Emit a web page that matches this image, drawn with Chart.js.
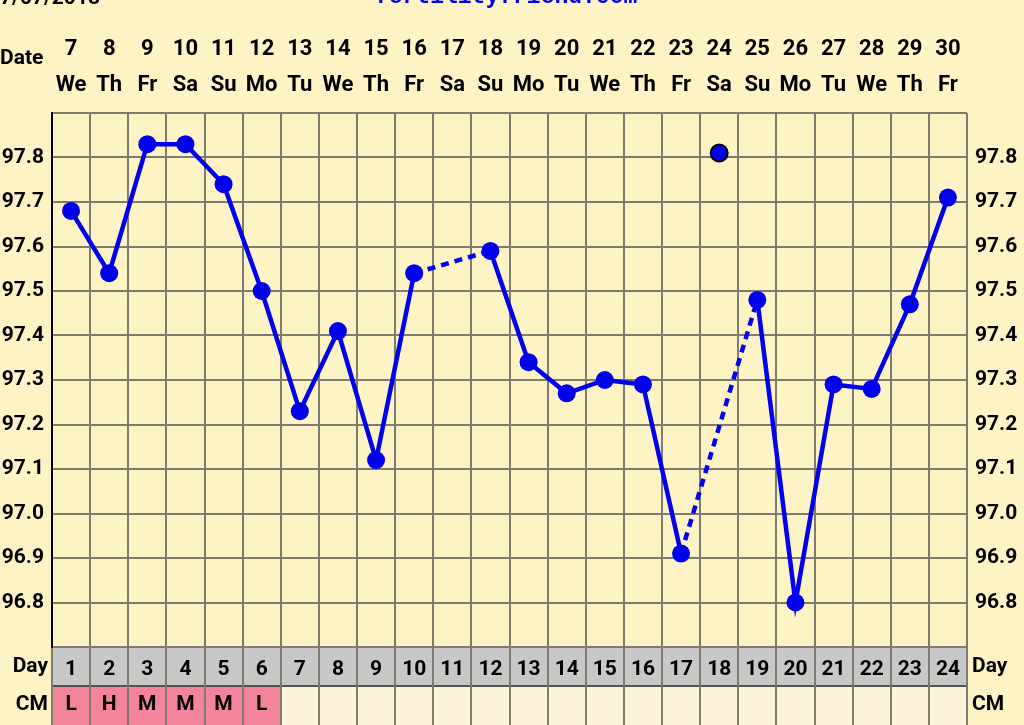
<!DOCTYPE html>
<html>
<head>
<meta charset="utf-8">
<script src="https://cdn.jsdelivr.net/npm/chart.js@4"></script>
<style>
  html, body { margin: 0; padding: 0; background: #fdf3c4; }
  canvas { display: block; }
</style>
</head>
<body>
<canvas id="bbtChart" width="1024" height="725"></canvas>
<script>
// --- DATA ---
const cycleDays = ['1','2','3','4','5','6','7','8','9','10','11','12','13','14','15','16','17','18','19','20','21','22','23','24'];
const dates = ['7','8','9','10','11','12','13','14','15','16','17','18','19','20','21','22','23','24','25','26','27','28','29','30'];
const weekdays = ['We','Th','Fr','Sa','Su','Mo','Tu','We','Th','Fr','Sa','Su','Mo','Tu','We','Th','Fr','Sa','Su','Mo','Tu','We','Th','Fr'];
const temps = [97.68, 97.54, 97.83, 97.83, 97.74, 97.50, 97.23, 97.41, 97.12, 97.54, null, 97.59,
               97.34, 97.27, 97.30, 97.29, 96.91, null, 97.48, 96.80, 97.29, 97.28, 97.47, 97.71];
const discarded = [null, null, null, null, null, null, null, null, null, null, null, null,
                   null, null, null, null, null, 97.81, null, null, null, null, null, null];
const cervicalMucus = ['L','H','M','M','M','L','','','','','','','','','','','','','','','','','',''];

const BG = '#fdf3c4';
const GRID = '#7f7b6e';
const FONT = 'Roboto, "Liberation Sans", sans-serif';

const tempLabel = (v) => (v > 96.75 && v < 97.85 ? (Math.round(v * 10) / 10).toFixed(1) : '');

const ctx = document.getElementById('bbtChart').getContext('2d');

new Chart(ctx, {
    type: 'line',
    data: {
        labels: cycleDays,
        datasets: [{
            data: temps,
            borderColor: '#0000ee',
            backgroundColor: '#0000ee',
            borderWidth: 4.5,
            pointRadius: 9,
            pointBorderWidth: 0,
            spanGaps: true,
            segment: {
                // dashed across the skipped days
                borderDash: (s) => (s.p0.skip || s.p1.skip ? [8, 6] : undefined)
            }
        }, {
            data: discarded,
            showLine: false,
            backgroundColor: '#0000ee',
            borderColor: '#000000',
            pointRadius: 8.5,
            pointBorderWidth: 2
        }]
    },
    options: {
        responsive: false,
        animation: false,
        devicePixelRatio: 1,
        layout: { padding: 0 },
        plugins: { legend: { display: false }, tooltip: { enabled: false } },
        scales: {
            x: {
                position: 'bottom',
                offset: true,
                grid: { offset: true, color: GRID, lineWidth: 2, drawTicks: true, tickLength: 78, tickColor: GRID, tickWidth: 2 },
                border: { display: false },
                ticks: { color: '#000', font: { family: FONT, size: 21, weight: 'bold' }, padding: -68, maxRotation: 0, autoSkip: false },
                afterFit: (s) => { s.height = 78; }
            },
            xTop: {
                type: 'category',
                position: 'top',
                labels: dates,
                offset: true,
                grid: { display: false, drawTicks: false },
                border: { display: false },
                ticks: {
                    color: '#000',
                    font: { family: FONT, size: 22, weight: 'bold', lineHeight: 1.66 },
                    padding: 9,
                    maxRotation: 0,
                    autoSkip: false,
                    callback: (v, i) => [dates[i], weekdays[i]]
                },
                afterFit: (s) => { s.height = 113; }
            },
            y: {
                position: 'left',
                min: 96.7,
                max: 97.9,
                grid: { color: GRID, lineWidth: 2, drawTicks: false },
                border: { color: '#000', width: 2 },
                ticks: {
                    stepSize: 0.1,
                    padding: 8,
                    color: '#000',
                    font: { family: FONT, size: 21, weight: 'bold' },
                    callback: tempLabel
                },
                afterFit: (s) => { s.width = 52; }
            },
            y2: {
                position: 'right',
                min: 96.7,
                max: 97.9,
                grid: { display: false, drawTicks: false },
                border: { display: false },
                ticks: {
                    stepSize: 0.1,
                    padding: 8,
                    color: '#000',
                    font: { family: FONT, size: 21, weight: 'bold' },
                    callback: tempLabel
                },
                afterFit: (s) => { s.width = 57; }
            }
        }
    },
    plugins: [{
        id: 'fertilityRows',
        beforeDraw: (chart) => {
            const { ctx, chartArea: { left, right, bottom }, scales: { x } } = chart;
            ctx.save();
            ctx.fillStyle = BG;
            ctx.fillRect(0, 0, chart.width, chart.height);

            // day row + cm row
            const dayTop = bottom, dayBottom = bottom + 39;
            ctx.fillStyle = '#c8c8c8';
            ctx.fillRect(left, dayTop, right - left, dayBottom - dayTop);
            const half = (x.getPixelForValue(1) - x.getPixelForValue(0)) / 2;
            cervicalMucus.forEach((c, i) => {
                const cx = x.getPixelForValue(i);
                ctx.fillStyle = c ? '#f4849c' : '#fbf2da';
                ctx.fillRect(cx - half, dayBottom, half * 2, chart.height - dayBottom);
            });
            ctx.strokeStyle = '#55534c';
            ctx.lineWidth = 2;
            ctx.beginPath();
            ctx.moveTo(left, dayBottom); ctx.lineTo(right, dayBottom);
            ctx.stroke();
            ctx.restore();
        },
        afterDraw: (chart) => {
            const { ctx, chartArea: { left, right, bottom }, scales: { x } } = chart;
            ctx.save();
            ctx.fillStyle = '#000';
            ctx.font = `bold 21px ${FONT}`;
            ctx.textBaseline = 'middle';

            ctx.textAlign = 'left';
            ctx.fillText('Date', 0, 59);
            ctx.fillText('Day', right + 5, bottom + 20);
            ctx.fillText('CM', right + 5, bottom + 58);
            ctx.textAlign = 'right';
            ctx.fillText('Day', left - 4, bottom + 20);
            ctx.fillText('CM', left - 4, bottom + 58);

            ctx.textAlign = 'center';
            cervicalMucus.forEach((c, i) => {
                if (c) ctx.fillText(c, x.getPixelForValue(i), bottom + 58);
            });

            // header line, cut at the top edge
            ctx.textBaseline = 'alphabetic';
            ctx.textAlign = 'right';
            ctx.fillText('07/07/2018', 100, 4);
            ctx.textAlign = 'left';
            ctx.fillStyle = '#0000ee';
            ctx.font = 'bold 23px "Liberation Mono", monospace';
            ctx.fillText('fertilityfriend.com', 375, 3);
            ctx.restore();
        }
    }]
});
</script>
</body>
</html>
